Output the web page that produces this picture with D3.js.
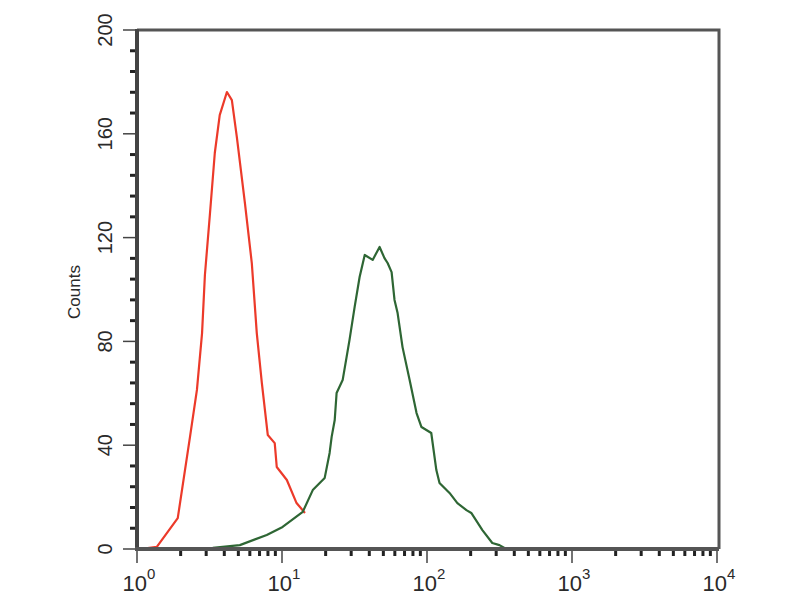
<!DOCTYPE html>
<html>
<head>
<meta charset="utf-8">
<script src="https://cdn.jsdelivr.net/npm/d3@7"></script>
<style>
  html, body { margin: 0; padding: 0; background: #fff; }
  svg { display: block; }
  text { font-family: "Liberation Sans", Arial, sans-serif; fill: #2a2a2a; }
</style>
</head>
<body>
<svg id="chart" width="800" height="600"></svg>
<script>
'use strict';

// isotype control histogram (red): fluorescence intensity, counts
const controlIntensity = [1.05, 1.37, 1.91, 2.32, 2.59, 2.81, 2.94, 3.18, 3.44, 3.72, 4.17, 4.51, 4.88, 5.55, 6.19, 6.70, 7.26, 7.98, 8.91, 9.20, 10.8, 12.6, 14.4];
const controlCounts = [0, 0.8, 11.9, 43.2, 61.3, 83.2, 105.6, 128.7, 152.6, 167.2, 176.1, 173, 158.8, 133.3, 110.2, 83.2, 64, 43.9, 40.8, 31.6, 26.6, 17.7, 13.9];

// stained sample histogram (green)
const sampleIntensity = [3.33, 5.12, 7.85, 10.1, 13.9, 16.3, 19.7, 21.3, 22.0, 23.1, 23.8, 26.2, 29.2, 31.7, 34.3, 37.2, 42.2, 47.1, 50.9, 53.5, 57.0, 59.7, 62.7, 67.8, 75.9, 84.7, 91.6, 107, 116, 122, 143, 162, 187, 202, 241, 282, 316, 352, 10000];
const sampleCounts = [0.4, 1.5, 5.4, 8.5, 14.3, 22.7, 27.4, 37.0, 43.2, 49.7, 60.1, 65.1, 80.5, 93.3, 104.8, 113.3, 111.4, 116.4, 112.1, 110.2, 106.7, 96.0, 90.9, 77.8, 65.1, 52.4, 47.0, 44.7, 30.4, 25.4, 21.6, 17.7, 15.0, 13.9, 7.3, 2.3, 1.5, 0, 0];

const yTicks = [0, 40, 80, 120, 160, 200];
const xDecades = [0, 1, 2, 3, 4];

const svg = d3.select('#chart');
const plotLeft = 137, plotRight = 717, plotTop = 30, plotBottom = 549;

const x = d3.scaleLog().domain([1, 10000]).range([plotLeft, plotRight]);
const y = d3.scaleLinear().domain([0, 200]).range([plotBottom, plotTop]);

const zip = (xs, ys) => xs.map((v, i) => ({ v, c: ys[i] }));
const line = d3.line().x(d => x(d.v)).y(d => y(d.c));

// frame (top / right, lighter)
svg.append('path')
  .attr('d', `M${plotLeft},${plotTop}H${plotRight + 2}V${plotBottom}`)
  .attr('fill', 'none')
  .attr('stroke', '#555')
  .attr('stroke-width', 3);

// curves
svg.append('path')
  .datum(zip(controlIntensity, controlCounts))
  .attr('d', line)
  .attr('fill', 'none')
  .attr('stroke', '#ec3a2a')
  .attr('stroke-width', 2.2)
  .attr('stroke-linejoin', 'round');

svg.append('path')
  .datum(zip(sampleIntensity, sampleCounts))
  .attr('d', line)
  .attr('fill', 'none')
  .attr('stroke', '#2e6634')
  .attr('stroke-width', 2.2)
  .attr('stroke-linejoin', 'round');

// y axis
const yAxis = svg.append('g').attr('transform', `translate(${plotLeft},0)`);
const yMinor = d3.range(0, 201, 8).filter(v => v % 40 !== 0);
yAxis.selectAll('.minor').data(yMinor).join('line')
  .attr('class', 'minor')
  .attr('x1', -7).attr('x2', -2)
  .attr('y1', d => y(d)).attr('y2', d => y(d))
  .attr('stroke', '#222').attr('stroke-width', 3);
yAxis.selectAll('.major').data(yTicks).join('line')
  .attr('class', 'major')
  .attr('x1', -14).attr('x2', 0)
  .attr('y1', d => y(d)).attr('y2', d => y(d))
  .attr('stroke', '#444').attr('stroke-width', 1.5);
yAxis.selectAll('text').data(yTicks).join('text')
  .attr('transform', d => `translate(-32,${y(d)}) rotate(-90)`)
  .attr('text-anchor', 'middle')
  .attr('dominant-baseline', 'central')
  .style('font-size', '20px')
  .text(d => d);
yAxis.append('line')
  .attr('x1', 0).attr('x2', 0).attr('y1', plotTop - 1).attr('y2', plotBottom + 2)
  .attr('stroke', '#444').attr('stroke-width', 4);

svg.append('text')
  .attr('transform', `translate(74,292) rotate(-90)`)
  .attr('text-anchor', 'middle')
  .attr('dominant-baseline', 'central')
  .style('font-size', '17px')
  .text('Counts');

// x axis
const xAxis = svg.append('g').attr('transform', `translate(0,${plotBottom})`);
const xMinor = [];
xDecades.slice(0, -1).forEach(p => d3.range(2, 10).forEach(m => xMinor.push(m * Math.pow(10, p))));
xAxis.selectAll('.minor').data(xMinor).join('line')
  .attr('class', 'minor')
  .attr('x1', d => x(d)).attr('x2', d => x(d))
  .attr('y1', 2).attr('y2', 7)
  .attr('stroke', '#222').attr('stroke-width', 3);
xAxis.selectAll('.major').data(xDecades).join('line')
  .attr('class', 'major')
  .attr('x1', d => x(Math.pow(10, d))).attr('x2', d => x(Math.pow(10, d)))
  .attr('y1', 0).attr('y2', 14)
  .attr('stroke', '#444').attr('stroke-width', 1.5);
xAxis.append('line')
  .attr('x1', plotLeft - 2).attr('x2', plotRight + 2).attr('y1', 0).attr('y2', 0)
  .attr('stroke', '#555').attr('stroke-width', 4);

const xLabels = xAxis.selectAll('text').data(xDecades).join('text')
  .attr('x', d => x(Math.pow(10, d)) + 2)
  .attr('y', 42)
  .attr('text-anchor', 'middle')
  .style('font-size', '22px');
xLabels.append('tspan').text('10');
xLabels.append('tspan')
  .attr('dy', -12)
  .style('font-size', '15px')
  .text(d => d);
</script>
</body>
</html>
